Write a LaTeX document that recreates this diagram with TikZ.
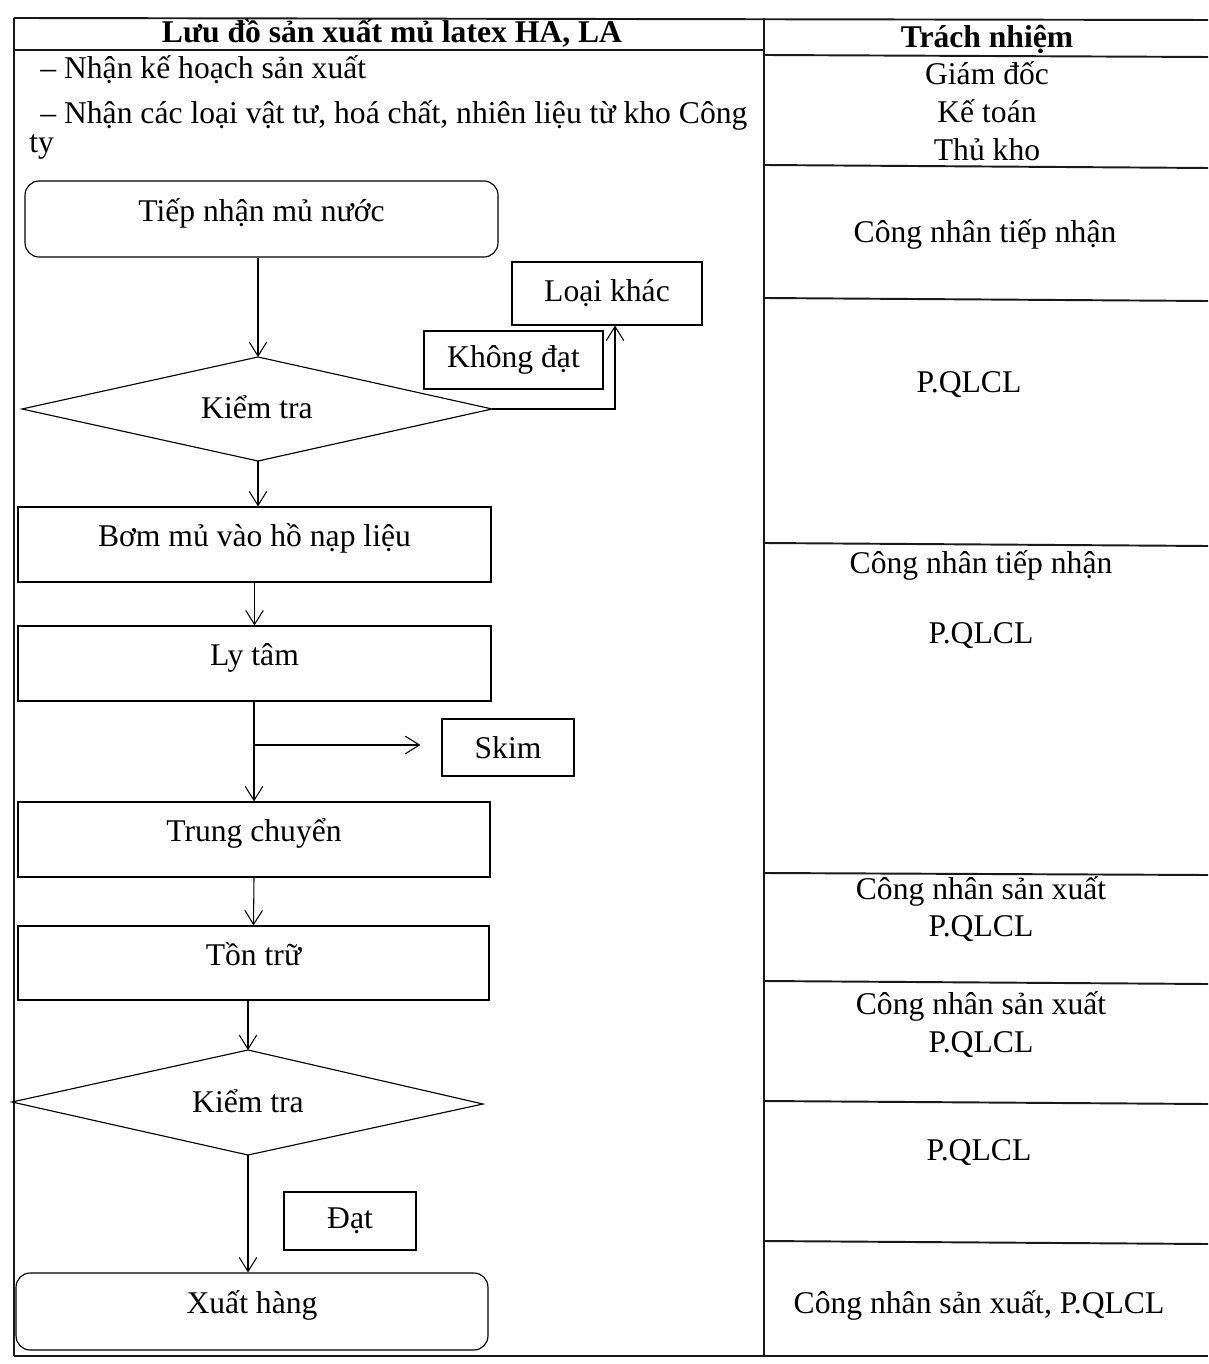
\documentclass[tikz,border=0pt]{standalone}
\usepackage{fontspec}
\setmainfont{Liberation Serif}
\usetikzlibrary{shapes.geometric,arrows.meta}
\begin{document}
\begin{tikzpicture}[x=0.02cm,y=-0.02cm,
  every node/.style={font=\fontsize{18}{21.5}\selectfont},
  tbl/.style={line width=1.1pt, black!90},
  box/.style={draw, line width=0.65pt, inner sep=0pt, rectangle},
  rbox/.style={box, rounded corners=8pt},
  up/.style={text depth=0.36cm},
  dia/.style={draw, line width=0.65pt, line join=miter},
  arr/.style={line width=0.6pt, -{Straight Barb[length=8pt,width=10pt]}},
  hd/.style={font=\fontsize{18}{21.5}\selectfont\bfseries}
]
\useasboundingbox (0,0) rectangle (1208,1364);
\fill[white] (0,0) rectangle (1208,1364);

% table
\draw[tbl] (14,18) -- (1208,20);
\draw[tbl] (14,18) -- (14,1356);
\draw[tbl] (764,18) -- (764,1356);
\draw[tbl] (14,1356) -- (1208,1356);
\draw[tbl] (14,50) -- (764,50);
\draw[tbl] (764,55) -- (1208,57);
\draw[tbl] (764,165) -- (1208,168);
\draw[tbl] (764,298) -- (1208,301);
\draw[tbl] (764,543) -- (1208,546);
\draw[tbl] (764,873) -- (1208,875);
\draw[tbl] (764,981) -- (1208,984);
\draw[tbl] (764,1101) -- (1208,1104);
\draw[tbl] (764,1241) -- (1208,1244);

% headers
\node[hd] (h1) at (392,33) {Lưu đồ sản xuất mủ latex HA, LA};
\node[hd] (h2) at (987,39) {Trách nhiệm};

% intro text
\node[anchor=base west, inner sep=0pt] (t1) at (40,79) {– Nhận kế hoạch sản xuất};
\node[anchor=base west, inner sep=0pt] (t2) at (40,124) {– Nhận các loại vật tư, hoá chất, nhiên liệu từ kho Công};
\node[anchor=base west, inner sep=0pt] (t3) at (29,153) {ty};

% flow nodes
\node[rbox, up, minimum width=9.46cm, minimum height=1.52cm] (tn) at (261.5,219) {Tiếp nhận mủ nước};
\node[box, minimum width=3.8cm, minimum height=1.26cm] (lk) at (607,293.5) {Loại khác};
\node[box, minimum width=3.58cm, minimum height=1.16cm] (kd) at (513.5,360) {Không đạt};

% decision 1
\coordinate (k1w) at (22,409);
\coordinate (k1n) at (258,357);
\coordinate (k1e) at (492,409);
\coordinate (k1s) at (258,461);
\draw[dia] (k1w) -- (k1n) -- (k1e) -- (k1s) -- cycle;
\node (k1) at (257,407) {Kiểm tra};

\node[box, up, minimum width=9.46cm, minimum height=1.5cm] (bom) at (254.5,544.5) {Bơm mủ vào hồ nạp liệu};
\node[box, up, minimum width=9.46cm, minimum height=1.5cm] (ly) at (254.5,663.5) {Ly tâm};
\node[box, minimum width=2.64cm, minimum height=1.14cm] (skim) at (508,747.5) {Skim};
\node[box, up, minimum width=9.44cm, minimum height=1.5cm] (tc) at (254,839.5) {Trung chuyển};
\node[box, up, minimum width=9.42cm, minimum height=1.48cm] (ton) at (253.5,963) {Tồn trữ};

% decision 2
\coordinate (k2w) at (12,1102);
\coordinate (k2n) at (248,1050);
\coordinate (k2e) at (483,1104);
\coordinate (k2s) at (248,1155);
\draw[dia] (k2w) -- (k2n) -- (k2e) -- (k2s) -- cycle;
\node (k2) at (248,1101) {Kiểm tra};

\node[box, minimum width=2.64cm, minimum height=1.16cm] (dat) at (350,1221) {Đạt};
\node[rbox, up, minimum width=9.44cm, minimum height=1.54cm] (xh) at (252,1311.5) {Xuất hàng};

% connectors
\draw[arr] (tn.south -| k1n) -- (k1n);
\coordinate (c1) at (615,409);
\draw[arr] (k1e) -- (c1) -- (c1 |- lk.south);
\draw[arr] (k1s) -- (k1s |- bom.north);
\draw[arr] (bom.south) -- (ly.north);
\draw[arr] (ly.south -| tc.north) -- (tc.north);
\coordinate (c2) at (254,745);
\draw[arr, shorten >=12pt] (c2) -- (c2 -| skim.west);
\draw[arr] (tc.south) -- (ton.north);
\draw[arr] (ton.south -| k2n) -- (k2n);
\draw[arr] (k2s) -- (k2s |- xh.north);

% responsibility column
\node[align=center] (r1) at (987,111) {Giám đốc\\Kế toán\\Thủ kho};
\node (r2) at (985,234) {Công nhân tiếp nhận};
\node (r3) at (969,385) {P.QLCL};
\node (r4) at (981,565) {Công nhân tiếp nhận};
\node (r5) at (981,636) {P.QLCL};
\node[align=center] (r6) at (981,909) {Công nhân sản xuất\\P.QLCL};
\node[align=center] (r7) at (981,1024.5) {Công nhân sản xuất\\P.QLCL};
\node (r8) at (979,1153) {P.QLCL};
\node (r9) at (979,1305) {Công nhân sản xuất, P.QLCL};
\end{tikzpicture}
\end{document}
